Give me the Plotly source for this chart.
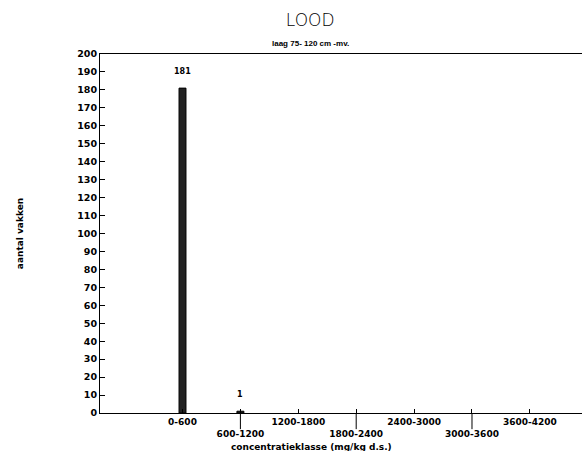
import plotly.graph_objects as go

categories = ["0-600", "600-1200", "1200-1800", "1800-2400", "2400-3000", "3000-3600", "3600-4200"]
counts = [181, 1, 0, 0, 0, 0, 0]
y_ticks = list(range(0, 201, 10))

idx = list(range(len(categories)))
ticktext = [c if i % 2 == 0 else "<br>" + c for i, c in enumerate(categories)]
bar_x = [i for i, v in zip(idx, counts) if v > 0]
bar_y = [v for v in counts if v > 0]

font_fam = "DejaVu Sans, sans-serif"

fig = go.Figure()
fig.add_trace(go.Bar(
    x=bar_x, y=bar_y, width=0.12,
    marker=dict(color="#222222", line=dict(color="#000000", width=1)),
))

annotations = [
    dict(text="laag 75- 120 cm -mv.", xref="paper", yref="paper", x=0.436, y=1.012,
         xanchor="center", yanchor="bottom", showarrow=False,
         font=dict(size=8, family="Liberation Sans, Arial, sans-serif", weight="bold")),
    dict(text="concentratieklasse (mg/kg d.s.)", xref="paper", yref="paper", x=0.438, y=0,
         xanchor="center", yanchor="middle", yshift=-34, showarrow=False,
         font=dict(size=9, family=font_fam, weight="bold")),
]
for xv, yv in zip(bar_x, bar_y):
    annotations.append(dict(text=str(yv), x=xv, y=yv, xref="x", yref="y",
                            xanchor="center", yanchor="bottom", yshift=10, showarrow=False,
                            font=dict(size=8, family=font_fam, weight="bold")))

# long ticks below the axis for the lower-row labels
for i in idx:
    if i % 2 == 1:
        fig.add_shape(type="line", xref="x", yref="paper", x0=i, x1=i, y0=0, y1=-0.045,
                      line=dict(color="black", width=1))

fig.update_layout(
    width=582, height=451,
    margin=dict(l=100, r=0, t=54, b=38),
    paper_bgcolor="white", plot_bgcolor="white",
    showlegend=False,
    font=dict(family=font_fam, color="black"),
    title=dict(text="LOOD", x=0.533, xanchor="center", y=0.955, yanchor="middle",
               font=dict(size=17, family=font_fam, weight=300)),
    annotations=annotations,
    xaxis=dict(
        range=[-1.425, 6.9], tickmode="array", tickvals=idx, ticktext=ticktext,
        ticks="inside", ticklen=4, tickcolor="black", tickangle=0, automargin=False,
        showline=True, linecolor="black", linewidth=1, mirror=True,
        showgrid=False, zeroline=False,
        tickfont=dict(size=9, family=font_fam, weight="bold"),
    ),
    yaxis=dict(
        range=[0, 200], tickmode="array", tickvals=y_ticks, automargin=False,
        ticks="inside", ticklen=5, tickcolor="black",
        showline=True, linecolor="black", linewidth=1,
        showgrid=False, zeroline=False,
        tickfont=dict(size=9.5, family=font_fam, weight="bold"),
        title=dict(text="aantal vakken", standoff=52,
                   font=dict(size=9, family=font_fam, weight="bold")),
    ),
)

fig.write_html("out.html")
